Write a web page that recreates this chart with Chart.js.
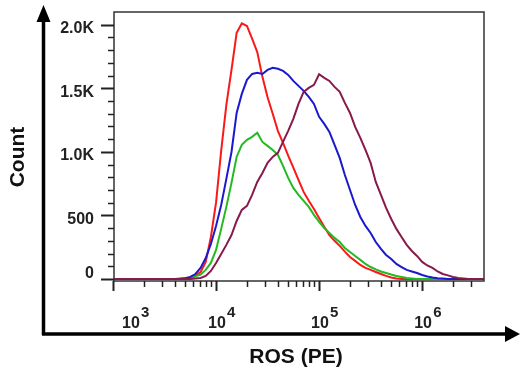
<!DOCTYPE html>
<html>
<head>
<meta charset="utf-8">
<script src="https://cdn.jsdelivr.net/npm/chart.js@4.4.1/dist/chart.umd.min.js"></script>
<style>
  body { margin: 0; background: #fff; }
  canvas { display: block; }
</style>
</head>
<body>
<canvas id="myChart" width="520" height="373"></canvas>
<script>
// ROS (PE) channel, log10 of fluorescence
const rosExp = [3.0,
  3.60, 3.65, 3.70, 3.75, 3.80, 3.85, 3.90, 3.95,
  4.00, 4.05, 4.10, 4.15, 4.20, 4.25, 4.30, 4.35, 4.40, 4.45,
  4.50, 4.55, 4.60, 4.65, 4.70, 4.75, 4.80, 4.85, 4.90, 4.95,
  5.00, 5.05, 5.10, 5.15, 5.20, 5.25, 5.30, 5.35, 5.40, 5.45,
  5.50, 5.55, 5.60, 5.65, 5.70, 5.75, 5.80, 5.85, 5.90, 5.95,
  6.00, 6.05, 6.10, 6.15, 6.20, 6.25, 6.30, 6.35, 6.40, 6.45,
  6.6];

const redCount = [0,
  0, 4, 8, 12, 24, 55, 134, 330,
  600, 1010, 1370, 1645, 1936, 2010, 1990, 1890, 1785, 1590,
  1430, 1300, 1165, 1070, 970, 875, 780, 685, 615, 550,
  480, 410, 345, 300, 260, 215, 173, 142, 110, 87,
  71, 55, 39, 24, 12, 4, 0, 0, 0, 0,
  0, 0, 0, 0, 0, 0, 0, 0, 0, 0,
  0];

const blueCount = [0,
  0, 0, 4, 16, 39, 87, 165, 275,
  417, 582, 787, 999, 1306, 1456, 1566, 1613, 1621, 1613,
  1645, 1661, 1653, 1637, 1605, 1558, 1519, 1480, 1432, 1377,
  1275, 1220, 1157, 1055, 952, 818, 700, 582, 488, 417,
  362, 291, 236, 189, 157, 118, 94, 71, 59, 47,
  31, 20, 12, 6, 3, 0, 0, 0, 0, 0,
  0];

const greenCount = [0,
  0, 0, 4, 8, 20, 35, 71, 126,
  228, 394, 567, 756, 960, 1055, 1094, 1118, 1150, 1078,
  1047, 1015, 976, 889, 795, 716, 661, 614, 567, 504,
  449, 401, 362, 323, 291, 244, 212, 181, 150, 118,
  94, 75, 59, 47, 35, 24, 16, 8, 4, 0,
  0, 0, 0, 0, 0, 0, 0, 0, 0, 0,
  0];

const maroonCount = [0,
  0, 0, 0, 0, 4, 8, 24, 63,
  126, 197, 268, 346, 456, 543, 575, 661, 763, 834,
  913, 960, 992, 1078, 1165, 1259, 1377, 1472, 1503, 1527,
  1610, 1582, 1558, 1511, 1472, 1385, 1306, 1196, 1110, 1015,
  913, 763, 661, 559, 472, 394, 330, 268, 220, 181,
  134, 106, 87, 59, 39, 28, 16, 8, 4, 0,
  0];

const yTickValues = [0, 500, 1000, 1500, 2000];
const yTickLabels = ['0', '500', '1.0K', '1.5K', '2.0K'];
const xDecades = [3, 4, 5, 6];

const FONT = "'Liberation Sans', Arial, sans-serif";

function toPoints(counts) {
    return counts.map((c, i) => ({ x: Math.pow(10, rosExp[i]), y: c }));
}

function line(label, counts, color) {
    return {
        label: label,
        data: toPoints(counts),
        borderColor: color,
        borderWidth: 2,
        pointRadius: 0,
        tension: 0,
        fill: false
    };
}

// frame, ticks, labels and the big arrows
const axesPlugin = {
    id: 'axesPlugin',
    afterDraw(chart) {
        let ctx = chart.ctx;
        let area = chart.chartArea;
        let xs = chart.scales.x;
        let ys = chart.scales.y;
        ctx.save();

        // plot frame
        ctx.strokeStyle = '#333';
        ctx.lineWidth = 1.5;
        ctx.strokeRect(area.left, area.top, area.right - area.left, area.bottom - area.top);

        // y ticks
        ctx.strokeStyle = '#222';
        for (let v = 0; v <= 2000; v += 100) {
            let y = Math.round(ys.getPixelForValue(v)) + 0.5;
            let major = v % 500 === 0;
            ctx.lineWidth = major ? 2 : 1.5;
            ctx.beginPath();
            ctx.moveTo(major ? 101 : 108, y);
            ctx.lineTo(area.left, y);
            ctx.stroke();
        }
        ctx.fillStyle = '#222';
        ctx.font = 'bold 16px ' + FONT;
        ctx.textAlign = 'right';
        ctx.textBaseline = 'middle';
        for (let i = 0; i < yTickValues.length; i++) {
            let y = ys.getPixelForValue(yTickValues[i]);
            let off = yTickValues[i] === 0 ? -5 : 4;
            ctx.fillText(yTickLabels[i], 94, y + off);
        }

        // x ticks (log)
        for (let d = 3; d <= 6; d++) {
            for (let m = 1; m <= 9; m++) {
                let v = m * Math.pow(10, d);
                if (v > xs.max) continue;
                let x = Math.round(xs.getPixelForValue(v)) + 0.5;
                let major = m === 1;
                ctx.lineWidth = major ? 2 : 1.5;
                ctx.beginPath();
                ctx.moveTo(x, area.bottom);
                ctx.lineTo(x, area.bottom + (major ? 10 : 6));
                ctx.stroke();
            }
        }
        ctx.textAlign = 'left';
        ctx.textBaseline = 'alphabetic';
        for (let d of xDecades) {
            let x = xs.getPixelForValue(Math.pow(10, d));
            let left = Math.max(x - 8, 122);
            ctx.font = 'bold 16px ' + FONT;
            ctx.fillText('10', left, 328);
            ctx.font = 'bold 15px ' + FONT;
            ctx.fillText(String(d), left + 19, 317);
        }

        // big axis arrows
        ctx.strokeStyle = '#000';
        ctx.fillStyle = '#000';
        ctx.lineWidth = 3.5;
        ctx.beginPath();
        ctx.moveTo(43.5, 335);
        ctx.lineTo(43.5, 20);
        ctx.moveTo(42, 334);
        ctx.lineTo(508, 334);
        ctx.stroke();
        ctx.beginPath();
        ctx.moveTo(43.5, 5);
        ctx.lineTo(36.5, 22);
        ctx.lineTo(50.5, 22);
        ctx.closePath();
        ctx.fill();
        ctx.beginPath();
        ctx.moveTo(520, 334);
        ctx.lineTo(505, 326);
        ctx.lineTo(505, 342);
        ctx.closePath();
        ctx.fill();

        // axis titles
        ctx.fillStyle = '#111';
        ctx.font = 'bold 21px ' + FONT;
        ctx.textAlign = 'center';
        ctx.textBaseline = 'middle';
        ctx.fillText('ROS (PE)', 296, 357);
        ctx.translate(18, 157);
        ctx.rotate(-Math.PI / 2);
        ctx.fillText('Count', 0, 0);
        ctx.restore();
    }
};

let ctx = document.getElementById('myChart').getContext('2d');
let myChart = new Chart(ctx, {
    type: 'line',
    data: {
        datasets: [
            line('maroon', maroonCount, 'rgb(135, 25, 75)'),
            line('blue', blueCount, 'rgb(25, 25, 205)'),
            line('green', greenCount, 'rgb(35, 185, 35)'),
            line('red', redCount, 'rgb(250, 25, 25)')
        ]
    },
    options: {
        responsive: false,
        animation: false,
        devicePixelRatio: 1,
        layout: { padding: { left: 114, right: 36, top: 12, bottom: 92 } },
        plugins: { legend: { display: false }, tooltip: { enabled: false } },
        scales: {
            x: { type: 'logarithmic', min: Math.pow(10, 3.01), max: Math.pow(10, 6.6), display: false },
            y: { type: 'linear', min: -16, max: 2100, display: false }
        }
    },
    plugins: [axesPlugin]
});
</script>
</body>
</html>
